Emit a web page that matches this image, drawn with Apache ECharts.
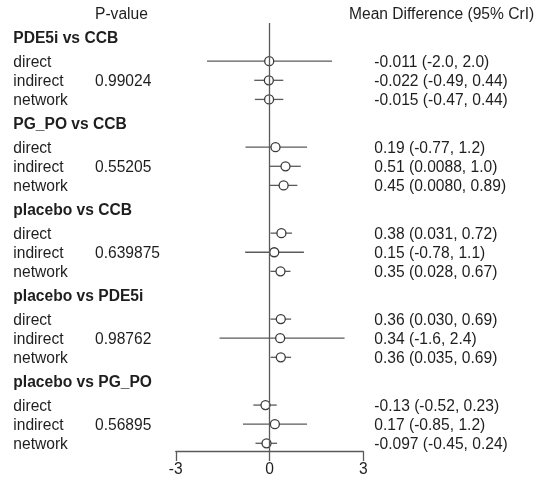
<!DOCTYPE html>
<html>
<head>
<meta charset="utf-8">
<script src="https://cdn.jsdelivr.net/npm/echarts@6/dist/echarts.min.js"></script>
<style>
html,body{margin:0;padding:0;background:#fff;}
#chart{width:538px;height:481px;}
</style>
</head>
<body>
<div id="chart"></div>
<script>
// ---- data ----
const groups = ['PDE5i vs CCB', 'PG_PO vs CCB', 'placebo vs CCB', 'placebo vs PDE5i', 'placebo vs PG_PO'];
const evidence = ['direct', 'indirect', 'network'];
const pValues = ['0.99024', '0.55205', '0.639875', '0.98762', '0.56895'];
const meanDiff = [
  [-0.011, -0.022, -0.015],
  [0.19, 0.51, 0.45],
  [0.38, 0.15, 0.35],
  [0.36, 0.34, 0.36],
  [-0.13, 0.17, -0.097]
];
const lowerCrI = [
  [-2.0, -0.49, -0.47],
  [-0.77, 0.0088, 0.0080],
  [0.031, -0.78, 0.028],
  [0.030, -1.6, 0.035],
  [-0.52, -0.85, -0.45]
];
const upperCrI = [
  [2.0, 0.44, 0.44],
  [1.2, 1.0, 0.89],
  [0.72, 1.1, 0.67],
  [0.69, 2.4, 0.69],
  [0.23, 1.2, 0.24]
];
const ciLabels = [
  ['-0.011 (-2.0, 2.0)', '-0.022 (-0.49, 0.44)', '-0.015 (-0.47, 0.44)'],
  ['0.19 (-0.77, 1.2)', '0.51 (0.0088, 1.0)', '0.45 (0.0080, 0.89)'],
  ['0.38 (0.031, 0.72)', '0.15 (-0.78, 1.1)', '0.35 (0.028, 0.67)'],
  ['0.36 (0.030, 0.69)', '0.34 (-1.6, 2.4)', '0.36 (0.035, 0.69)'],
  ['-0.13 (-0.52, 0.23)', '0.17 (-0.85, 1.2)', '-0.097 (-0.45, 0.24)']
];
const xTicks = [-3, 0, 3];
const pValueTitle = 'P-value';
const ciTitle = 'Mean Difference (95% CrI)';

// ---- layout helpers (row units) ----
const GROUP_STEP = 4.5, HEADER_GAP = 1.25;
function headerRow(g) { return g * GROUP_STEP; }
function dataRow(g, r) { return g * GROUP_STEP + HEADER_GAP + r; }

const segs = [], pts = [];
groups.forEach((name, g) => {
  evidence.forEach((ev, r) => {
    const u = dataRow(g, r);
    segs.push([lowerCrI[g][r], upperCrI[g][r], u]);
    pts.push([meanDiff[g][r], u]);
  });
});

const LINE = '#5a5a5a', TEXT = '#1e1e1e', FONT = 'Arial, "Liberation Sans", Helvetica, sans-serif', FS = 15.6;

const chart = echarts.init(document.getElementById('chart'), null, {renderer: 'canvas'});
chart.setOption({
  animation: false,
  backgroundColor: '#fff',
  grid: {left: 175.8, right: 174.7, top: 23, bottom: 29.5, containLabel: false},
  xAxis: {
    type: 'value', position: 'bottom',
    min: xTicks[0], max: xTicks[xTicks.length - 1], interval: 3,
    axisLine: {show: true, onZero: false, lineStyle: {color: LINE, width: 1.3}},
    axisTick: {show: true, length: 9.5, lineStyle: {color: LINE, width: 1.3}},
    axisLabel: {color: TEXT, fontSize: FS, fontFamily: FONT, margin: 10.5},
    splitLine: {show: false}
  },
  yAxis: {type: 'value', inverse: true, min: -0.75, max: 21.68, show: false},
  series: [
    {
      type: 'custom',
      data: segs,
      renderItem: function (params, api) {
        const a = api.coord([api.value(0), api.value(2)]);
        const b = api.coord([api.value(1), api.value(2)]);
        return {type: 'line', shape: {x1: a[0], y1: a[1], x2: b[0], y2: b[1]},
                style: {stroke: LINE, lineWidth: 1.3}};
      },
      z: 2,
      markLine: {
        silent: true, symbol: 'none', label: {show: false},
        lineStyle: {color: LINE, width: 1.3, type: 'solid'},
        data: [{xAxis: 0}]
      }
    },
    {
      type: 'scatter',
      data: pts,
      symbol: 'circle',
      symbolSize: 9,
      itemStyle: {color: '#fff', borderColor: '#3a3a3a', borderWidth: 1.3, opacity: 1},
      z: 3
    }
  ]
});

// ---- text columns ----
function rowY(u) { return chart.convertToPixel({yAxisIndex: 0}, u); }
const graphics = [];
function addText(x, y, text, bold) {
  graphics.push({type: 'text', x: x, y: y,
    style: {text: text, fill: TEXT, fontSize: FS, fontFamily: FONT,
            fontWeight: bold ? 'bold' : 'normal',
            textAlign: 'left', textVerticalAlign: 'middle'}});
}
const dy = 1.5;
addText(95, 15, pValueTitle, false);
addText(349, 15, ciTitle, false);
groups.forEach((name, g) => {
  addText(13.3, rowY(headerRow(g)) + dy, name, true);
  evidence.forEach((ev, r) => {
    const y = rowY(dataRow(g, r)) + dy;
    addText(13.3, y, ev, false);
    if (r === 1) addText(95, y, pValues[g], false);
    addText(374.3, y, ciLabels[g][r], false);
  });
});
chart.setOption({graphic: graphics});
</script>
</body>
</html>
